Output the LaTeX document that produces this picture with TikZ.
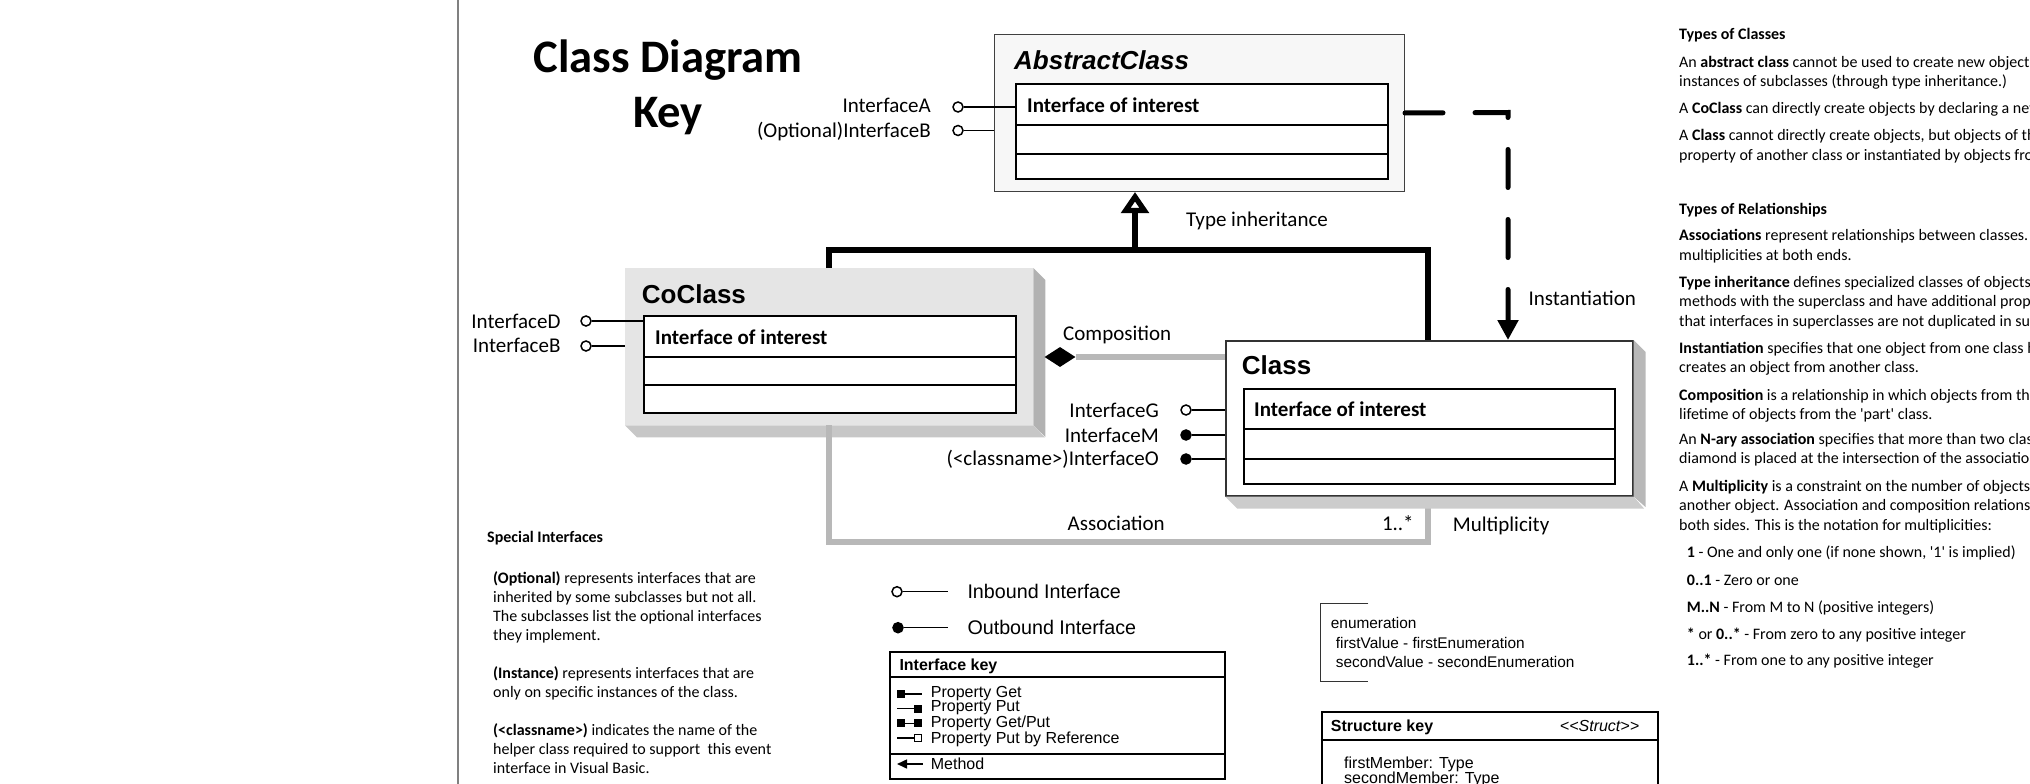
\documentclass[tikz,border=0pt]{standalone}
\usepackage{fontspec}
\setmainfont{Carlito}
\newfontfamily\arialf{Liberation Sans}
\usetikzlibrary{arrows.meta}
\usetikzlibrary{shapes.geometric}

\begin{document}
\begin{tikzpicture}[x=1pt,y=-1pt,
    lbl/.style={font=\fontsize{21}{25}\selectfont, inner sep=0, anchor=base west},
    lbll/.style={lbl, anchor=base east},
    para/.style={font=\fontsize{16}{19.5}\selectfont, inner sep=0, anchor=base west, align=left},
    artext/.style={font=\arialf\fontsize{16}{14.7}\selectfont, inner sep=0, anchor=base west, align=left},
    clsname/.style={font=\arialf\bfseries\fontsize{26}{30}\selectfont, inner sep=0, anchor=base west},
    ifname/.style={font=\bfseries\fontsize{21}{25}\selectfont, inner sep=0, anchor=base west},
    shell/.style={anchor=north west, inner sep=0, minimum height=157pt},
    ifbox/.style={draw, line width=1.8, fill=white, anchor=north west, inner sep=0, minimum width=372pt, minimum height=95pt},
    inb/.style={circle, draw, line width=1.5, fill=white, inner sep=0, minimum size=10pt},
    outb/.style={inb, fill=black},
    stub/.style={line width=1.5},
    inh/.style={line width=5.5},
    gline/.style={line width=6.5, black!28},
    inst/.style={line width=5, line cap=round, dash pattern=on 38pt off 32pt, -{Triangle[length=20pt,width=20pt]}},
    keybox/.style={draw, line width=1.8, anchor=north west, inner sep=0}]

	\useasboundingbox (0,0) rectangle (2030,784);
	\draw[black!50, line width=2] (458,0) -- (458,784);

	% multi-line nodes are placed by the baseline of their last line
	\node[font=\bfseries\fontsize{46.6}{55.3}\selectfont, align=center, anchor=base, inner sep=0] (title) at (668,128) {Class Diagram\\Key};

	\coordinate (tl) at (829,250);
	\coordinate (tm) at (1135,250);
	\coordinate (tr) at (1428,250);
	\coordinate (ic) at (1508,112.5);
	\coordinate (al) at (829,542);
	\coordinate (ar) at (1428,542);

	% abstract class
	\node[shell, draw=black!75, fill=black!3, line width=1, minimum width=410pt] (absout) at (994,34) {};
	\node[ifbox] (absin) at (1015,83) {};
	\draw[line width=1.2] ([yshift=-42pt]absin.north west) -- ([yshift=-42pt]absin.north east);
	\draw[line width=1.2] ([yshift=-71pt]absin.north west) -- ([yshift=-71pt]absin.north east);
	\node[clsname, font=\arialf\bfseries\itshape\fontsize{26}{30}\selectfont] (absname) at (1014,70) {AbstractClass};
	\node[ifname] (absif) at (1027,112) {Interface of interest};

	\node[inb] (ia) at (958,107) {};
	\node[inb] (ib) at (958,130.5) {};
	\node[lbll] (ialbl) at (931,113) {InterfaceA};
	\node[lbll] (iblbl) at (931,137) {(Optional)InterfaceB};
	\draw[stub] (ia) -- (ia -| absin.west);
	\draw[stub] (ib) -- (ib -| absout.west);

	% coclass
	\node[shell, fill=black!10, minimum width=408pt] (coout) at (625,268) {};
	\fill[black!30] (coout.north east) -- ++(12,12) -- ++(0,157) -- (coout.south east) -- cycle;
	\fill[black!22] (coout.south west) -- ++(12,12) -- ++(408,0) -- (coout.south east) -- cycle;
	\node[ifbox, minimum width=372pt, minimum height=97pt] (coin) at (643,315) {};
	\draw[line width=1.2] ([yshift=-42pt]coin.north west) -- ([yshift=-42pt]coin.north east);
	\draw[line width=1.2] ([yshift=-70pt]coin.north west) -- ([yshift=-70pt]coin.north east);
	\node[clsname] (coname) at (641.7,303.3) {CoClass};
	\node[ifname] (coif) at (655,344) {Interface of interest};

	\node[inb] (id) at (586,321) {};
	\node[inb] (ib2) at (586,346) {};
	\node[lbll] (idlbl) at (560.6,328.3) {InterfaceD};
	\node[lbll] (ib2lbl) at (560.6,352.7) {InterfaceB};
	\draw[stub] (id) -- (id -| coin.west);
	\draw[stub] (ib2) -- (ib2 -| coout.west);

	% relationships
	\draw[inh] (coout.north -| tl) -- (tl) -- (tr) -- (tr |- 0,340);
	\draw[inh, -{Triangle[open, length=21pt, width=27pt]}] (tm) -- (tm |- absout.south);
	\draw[inst] (absout.east) -- (ic) -- (ic |- 0,340);
	\draw[gline] (coout.south -| al) -- (al) -- (ar) -- (ar |- 0,495);

	\node[diamond, fill=black, inner sep=0, minimum width=31pt, minimum height=20pt] (dia) at (1060,357) {};

	% class
	\node[shell, draw=black!80, fill=white, line width=1.5, minimum width=407pt, minimum height=155pt] (clsout) at (1225,340) {};
	\fill[black!28] (clsout.north east) -- ++(12,12) -- ++(0,155) -- (clsout.south east) -- cycle;
	\fill[black!20] (clsout.south west) -- ++(12,12) -- ++(407,0) -- (clsout.south east) -- cycle;
	\draw[gline] (dia.east) -- (dia.east -| clsout.west);
	\node[ifbox, minimum width=371pt] (clsin) at (1243,388) {};
	\draw[line width=1.2] ([yshift=-41pt]clsin.north west) -- ([yshift=-41pt]clsin.north east);
	\draw[line width=1.2] ([yshift=-71pt]clsin.north west) -- ([yshift=-71pt]clsin.north east);
	\node[clsname] (clsname) at (1241.7,374.3) {Class};
	\node[ifname] (clsif) at (1254,416.7) {Interface of interest};

	\node[inb] (ig) at (1186,410) {};
	\node[outb] (im) at (1186,435) {};
	\node[outb] (io) at (1186,459) {};
	\node[lbll] (iglbl) at (1159,417) {InterfaceG};
	\node[lbll] (imlbl) at (1159,442) {InterfaceM};
	\node[lbll] (iolbl) at (1159,465) {(<classname>)InterfaceO};
	\draw[stub] (ig) -- (ig -| clsout.west);
	\draw[stub] (im) -- (im -| clsout.west);
	\draw[stub] (io) -- (io -| clsout.west);

	\node[lbl] (inhlbl) at (1186,226.7) {Type inheritance};
	\node[lbl] (instlbl) at (1528.3,305) {Instantiation};
	\node[lbl] (complbl) at (1063,340) {Composition};
	\node[lbl] (aslbl) at (1067.5,530.7) {Association};
	\node[lbl] (multlbl) at (1381.8,530) {1..*};
	\node[lbl] (multtxt) at (1452.7,531.7) {Multiplicity};

	% interface legend
	\node[inb] (inbc) at (897,591.7) {};
	\node[outb] (outbc) at (898,627.7) {};
	\coordinate (inbe) at (948,591.7);
	\coordinate (outbe) at (948,627.7);
	\draw[stub] (inbc) -- (inbe);
	\draw[stub] (outbc) -- (outbe);
	\node[artext, font=\arialf\fontsize{19.7}{23}\selectfont] (inblbl) at (967.3,598.7) {Inbound Interface};
	\node[artext, font=\arialf\fontsize{19.7}{23}\selectfont] (outblbl) at (967.3,634.7) {Outbound Interface};

	\node[keybox, minimum width=335pt, minimum height=127pt] (ikey) at (889,651) {};
	\draw[line width=1.5] ([yshift=-26pt]ikey.north west) -- ([yshift=-26pt]ikey.north east);
	\draw[line width=1.5] ([yshift=26pt]ikey.south west) -- ([yshift=26pt]ikey.south east);
	\node[artext, font=\arialf\bfseries\fontsize{16}{19}\selectfont] (ikeylbl) at (899.3,670) {Interface key};
	\node[artext] (props) at (930.7,743.6) {Property Get\\Property Put\\Property Get/Put\\Property Put by Reference};
	\node[artext] (meth) at (930.7,769.5) {Method};
	\fill (897,690) rectangle (905,698);
	\draw[line width=1.3] (905,694) -- (922,694);
	\draw[line width=1.3] (897,708.7) -- (914,708.7);
	\fill (914,704.7) rectangle (922,712.7);
	\fill (897,719.4) rectangle (905,727.4);
	\draw[line width=1.3] (905,723.4) -- (914,723.4);
	\fill (914,719.4) rectangle (922,727.4);
	\draw[line width=1.3] (897,738.1) -- (914,738.1);
	\draw[line width=1.2] (914.5,734.6) rectangle (921.5,741.6);
	\draw[line width=1.5, {Triangle[length=10pt,width=9pt]}-] (897,764) -- (923,764);

	% enumeration and structure
	\draw[line width=1.3, black!80] (1368.3,603.3) -| (1320.7,681.7) -- (1368.3,681.7);
	\node[artext, font=\arialf\fontsize{15.4}{19.7}\selectfont] (enum) at (1330.7,667.9) {enumeration\\\hspace*{5pt}firstValue - firstEnumeration\\\hspace*{5pt}secondValue - secondEnumeration};

	\node[keybox, minimum width=336pt, minimum height=100pt] (skey) at (1320.7,710.7) {};
	\draw[line width=1.5] ([yshift=-29.3pt]skey.north west) -- ([yshift=-29.3pt]skey.north east);
	\node[artext, font=\arialf\bfseries\fontsize{16}{19}\selectfont] (skeylbl) at (1330.7,731.5) {Structure key};
	\node[artext, anchor=base east] (struct) at (1639.3,731.5) {\itshape\textless\textless Struct\textgreater\textgreater};
	\node[artext, font=\arialf\fontsize{16}{15}\selectfont] (members) at (1344,783.5) {firstMember: Type\\secondMember: Type};

	% special interfaces
	\node[para] (spec) at (487,542.5) {\textbf{Special Interfaces}};
	\node[para, font=\fontsize{16}{19}\selectfont] (popt) at (493,640.5) {\textbf{(Optional)} represents interfaces that are\\inherited by some subclasses but not all.\\The subclasses list the optional interfaces\\they implement.};
	\node[para, font=\fontsize{16}{19}\selectfont] (pinsc) at (493,697.5) {\textbf{(Instance)} represents interfaces that are\\only on specific instances of the class.};
	\node[para, font=\fontsize{16}{19}\selectfont] (pcls) at (493,773.5) {\textbf{(<classname>)} indicates the name of the\\helper class required to support~ this event\\interface in Visual Basic.};

	% types of classes and relationships
	\node[para] (tcls) at (1679,40) {\textbf{Types of Classes}};
	\node[para] (pabs) at (1679,86.8) {An \textbf{abstract class} cannot be used to create new objects\\instances of subclasses (through type inheritance.)};
	\node[para] (pco) at (1679,113.3) {A \textbf{CoClass} can directly create objects by declaring a new};
	\node[para] (pcl) at (1679,160.2) {A \textbf{Class} cannot directly create objects, but objects of this\\property of another class or instantiated by objects from};
	\node[para] (trel) at (1679,214) {\textbf{Types of Relationships}};
	\node[para] (pas) at (1679,260.2) {\textbf{Associations} represent relationships between classes.\\multiplicities at both ends.};
	\node[para] (pinh) at (1679,326.3) {\textbf{Type inheritance} defines specialized classes of objects\\methods with the superclass and have additional properties\\that interfaces in superclasses are not duplicated in subclasses};
	\node[para] (pinst) at (1679,372.5) {\textbf{Instantiation} specifies that one object from one class has\\creates an object from another class.};
	\node[para] (pcomp) at (1679,419.5) {\textbf{Composition} is a relationship in which objects from the\\lifetime of objects from the \textquotesingle part\textquotesingle{} class.};
	\node[para] (pnary) at (1679,463.5) {An \textbf{N-ary association} specifies that more than two classes\\diamond is placed at the intersection of the association};
	\node[para] (pmult) at (1679,530.3) {A \textbf{Multiplicity} is a constraint on the number of objects\\another object. Association and composition relationships\\both sides. This is the notation for multiplicities:};
	\node[para] (m1) at (1686.7,557.3) {\textbf{1} - One and only one (if none shown, \textquotesingle 1\textquotesingle{} is implied)};
	\node[para] (m2) at (1686.7,585) {\textbf{0..1} - Zero or one};
	\node[para] (m3) at (1686.7,612.3) {\textbf{M..N} - From M to N (positive integers)};
	\node[para] (m4) at (1686.7,639) {\textbf{*} or \textbf{0..*} - From zero to any positive integer};
	\node[para] (m5) at (1686.7,665.7) {\textbf{1..*} - From one to any positive integer};
\end{tikzpicture}
\end{document}
